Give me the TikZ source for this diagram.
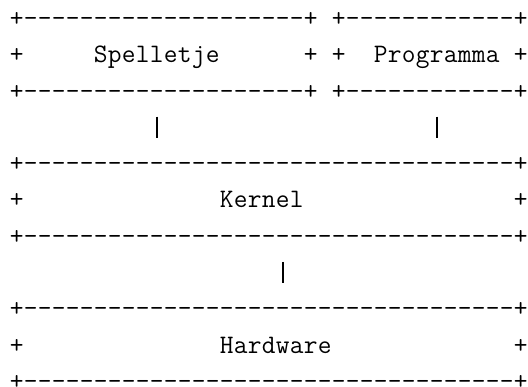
\documentclass[tikz,border=0pt]{standalone}
\usepackage{tikz}

% every character sits in a fixed-width cell, like a typewriter grid
\newlength\cw
\setlength\cw{14pt}
\newcommand\gridcell[1]{\makebox[\cw]{#1}}
\newcommand\rowstrut{\rule[-8pt]{0pt}{28pt}}
% border line: + followed by #1 dashes and a closing +
\newcommand\edgerow[1]{\rowstrut\gridcell{+}\foreach\k in {1,...,#1}{\gridcell{-}}\gridcell{+}}
% spell a word out cell by cell
\def\spellend{}
\def\spellout#1{\spellstep#1\spellend}
\def\spellstep#1{\ifx#1\spellend\else\gridcell{#1}\expandafter\spellstep\fi}
% label line: + , #1 blanks, word, #3 blanks, +
\newcommand\labelrow[3]{\rowstrut\gridcell{+}\hspace*{#1\cw}\spellout{#2}\hspace*{#3\cw}\gridcell{+}}

\begin{document}
\begin{tikzpicture}[x=1pt,y=1pt,
  layer/.style={inner sep=0pt, outer sep=0pt, align=left, anchor=north west,
    font=\fontsize{26.67pt}{36.3pt}\selectfont\ttfamily},
  link/.style={line width=1.7pt, shorten <=9.6pt, shorten >=13.4pt}]
\useasboundingbox (0,0) rectangle (528,-387);

\node[layer] (spel) at (9.7,-6.5)
  {\edgerow{20}\\\labelrow{5}{Spelletje}{6}\\\edgerow{20}};
\node[layer] (prog) at (331.7,-6.5)
  {\edgerow{12}\\\labelrow{2}{Programma}{1}\\\edgerow{12}};
\node[layer] (kernel) at (9.7,-151.7)
  {\edgerow{35}\\\labelrow{14}{Kernel}{15}\\\edgerow{35}};
\node[layer] (hw) at (9.7,-296.9)
  {\edgerow{35}\\\labelrow{14}{Hardware}{13}\\\edgerow{35}};

\draw[link] ([xshift=147pt]spel.south west) -- ([xshift=147pt]kernel.north west);
\draw[link] ([xshift=105pt]prog.south west) -- ([xshift=427pt]kernel.north west);
\draw[link] ([xshift=273pt]kernel.south west) -- ([xshift=273pt]hw.north west);
\end{tikzpicture}
\end{document}
